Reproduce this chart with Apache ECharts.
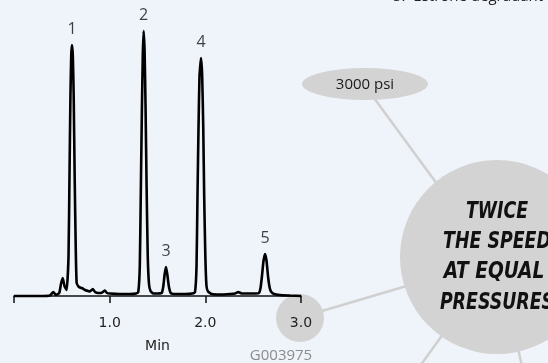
<!DOCTYPE html>
<html>
<head>
<meta charset="utf-8">
<script src="https://cdn.jsdelivr.net/npm/echarts@6/dist/echarts.min.js"></script>
<style>
html,body{margin:0;padding:0;background:#eff3fa;}
#c{width:548px;height:363px;}
</style>
</head>
<body>
<div id="c"></div>
<script>
// Retention time (min) and detector signal (arbitrary units)
var times = [0.000,0.272,0.376,0.411,0.439,0.473,0.491,0.509,0.528,0.551,0.570,0.580,0.590,0.598,0.606,0.615,0.624,0.634,0.645,0.655,0.679,0.708,0.742,0.773,0.794,0.823,0.847,0.881,0.910,0.951,0.972,1.003,1.108,1.212,1.275,1.299,1.315,1.325,1.336,1.346,1.355,1.365,1.375,1.386,1.398,1.411,1.427,1.456,1.505,1.544,1.561,1.575,1.589,1.602,1.618,1.638,1.672,1.787,1.861,1.892,1.908,1.918,1.929,1.939,1.955,1.967,1.978,1.988,2.000,2.012,2.028,2.067,2.153,2.258,2.310,2.344,2.383,2.467,2.529,2.561,2.577,2.592,2.608,2.624,2.640,2.655,2.671,2.686,2.718,2.780,2.885,3.000];
var signal = [0,0,0.5,4,1,3,12,18,10,6,40,120,200,240,251,240,200,120,50,13,9,8,6,5,4.5,7,4,3,3,5.5,3,2.5,2,2,2.5,4,30,100,180,240,265,245,190,110,40,12,5,2.5,2.5,3,10,22,29,22,10,3,2,2,2.5,4,30,100,170,220,238,220,170,100,40,10,4.5,2,1.5,2,2.5,4,2.5,2.5,2.5,3,8,20,35,42,35,20,9,4.5,2,1,0.5,0];
// Peak annotations
var peakLabels = ["1","2","3","4","5"];
var peakTimes = [0.606,1.355,1.589,1.955,2.624];
var peakHeights = [251,265,29,238,42];
// Axis ticks
var tickValues = [0,1,2,3];
var tickLabels = ["","1.0","2.0","3.0"];

var lineData = times.map(function(t,i){return [t,signal[i]];});
var peakData = peakTimes.map(function(t,i){return {value:[t,peakHeights[i]],name:peakLabels[i]};});

var chart = echarts.init(document.getElementById('c'), null, {renderer:'canvas'});
var grey = '#d3d3d3';
var lineGrey = '#d0d0d0';
var bigFont = 'italic bold 23px "Liberation Sans Narrow","DejaVu Sans Condensed","DejaVu Sans",sans-serif';
chart.setOption({
  backgroundColor:'#eff3fa',
  animation:false,
  grid:{left:14,right:247,top:0,bottom:58,containLabel:false},
  xAxis:{
    type:'value',min:0,max:3,interval:1,
    axisLine:{show:true,lineStyle:{color:'#111',width:1.5}},
    axisTick:{show:true,inside:false,length:7,lineStyle:{color:'#111',width:1.5}},
    splitLine:{show:false},
    axisLabel:{margin:11,color:'#222',fontFamily:'DejaVu Sans',fontSize:14,
      formatter:function(v){var i=tickValues.indexOf(v);return i>=0?tickLabels[i]:'';}},
    name:'Min',nameLocation:'middle',nameGap:34,
    nameTextStyle:{color:'#222',fontFamily:'DejaVu Sans',fontSize:14}
  },
  yAxis:{type:'value',min:-9,max:296,show:false},
  series:[
    {type:'line',data:lineData,showSymbol:false,smooth:0.15,
     lineStyle:{color:'#000',width:2.6},z:3},
    {type:'scatter',data:peakData,symbolSize:2,itemStyle:{color:'rgba(0,0,0,0)'},
     label:{show:true,position:'top',distance:7,formatter:'{b}',
       color:'#111',fontFamily:'Open Sans',fontSize:16},z:4}
  ],
  graphic:[
    {type:'line',z:-5,shape:{x1:374,y1:98,x2:440,y2:188},style:{stroke:lineGrey,lineWidth:2.5}},
    {type:'line',z:-5,shape:{x1:322,y1:311,x2:410,y2:285},style:{stroke:lineGrey,lineWidth:2.5}},
    {type:'line',z:-5,shape:{x1:446,y1:330,x2:420,y2:366},style:{stroke:lineGrey,lineWidth:2.5}},
    {type:'line',z:-5,shape:{x1:516,y1:340,x2:522,y2:366},style:{stroke:lineGrey,lineWidth:2.5}},
    {type:'circle',z:-4,x:365,y:84,scaleY:0.254,shape:{cx:0,cy:0,r:63},style:{fill:grey}},
    {type:'circle',z:-4,shape:{cx:300,cy:318,r:24},style:{fill:grey}},
    {type:'circle',z:-4,shape:{cx:497,cy:257,r:97},style:{fill:grey}},
    {type:'text',z:-3,x:365,y:85,style:{text:'3000 psi',fill:'#1a1a1a',font:'15px "Open Sans"',textAlign:'center',textVerticalAlign:'middle'}},
    {type:'text',z:-3,x:281,y:356,style:{text:'G003975',fill:'#8c8c8c',font:'15px "Open Sans"',textAlign:'center',textVerticalAlign:'middle'}},
    {type:'text',z:-3,x:393,y:4,style:{text:'5.  Estrone degradant',fill:'#222',font:'15px "Open Sans"',textAlign:'left',textVerticalAlign:'bottom'}},
    {type:'text',z:-3,x:497,y:212,scaleX:0.84,style:{text:'TWICE',fill:'#111',font:bigFont,textAlign:'center',textVerticalAlign:'middle'}},
    {type:'text',z:-3,x:497,y:242,scaleX:0.84,style:{text:'THE SPEED',fill:'#111',font:bigFont,textAlign:'center',textVerticalAlign:'middle'}},
    {type:'text',z:-3,x:494,y:272,scaleX:0.9,style:{text:'AT EQUAL',fill:'#111',font:bigFont,textAlign:'center',textVerticalAlign:'middle'}},
    {type:'text',z:-3,x:497,y:303,scaleX:0.84,style:{text:'PRESSURES',fill:'#111',font:bigFont,textAlign:'center',textVerticalAlign:'middle'}}
  ]
});
</script>
</body>
</html>
